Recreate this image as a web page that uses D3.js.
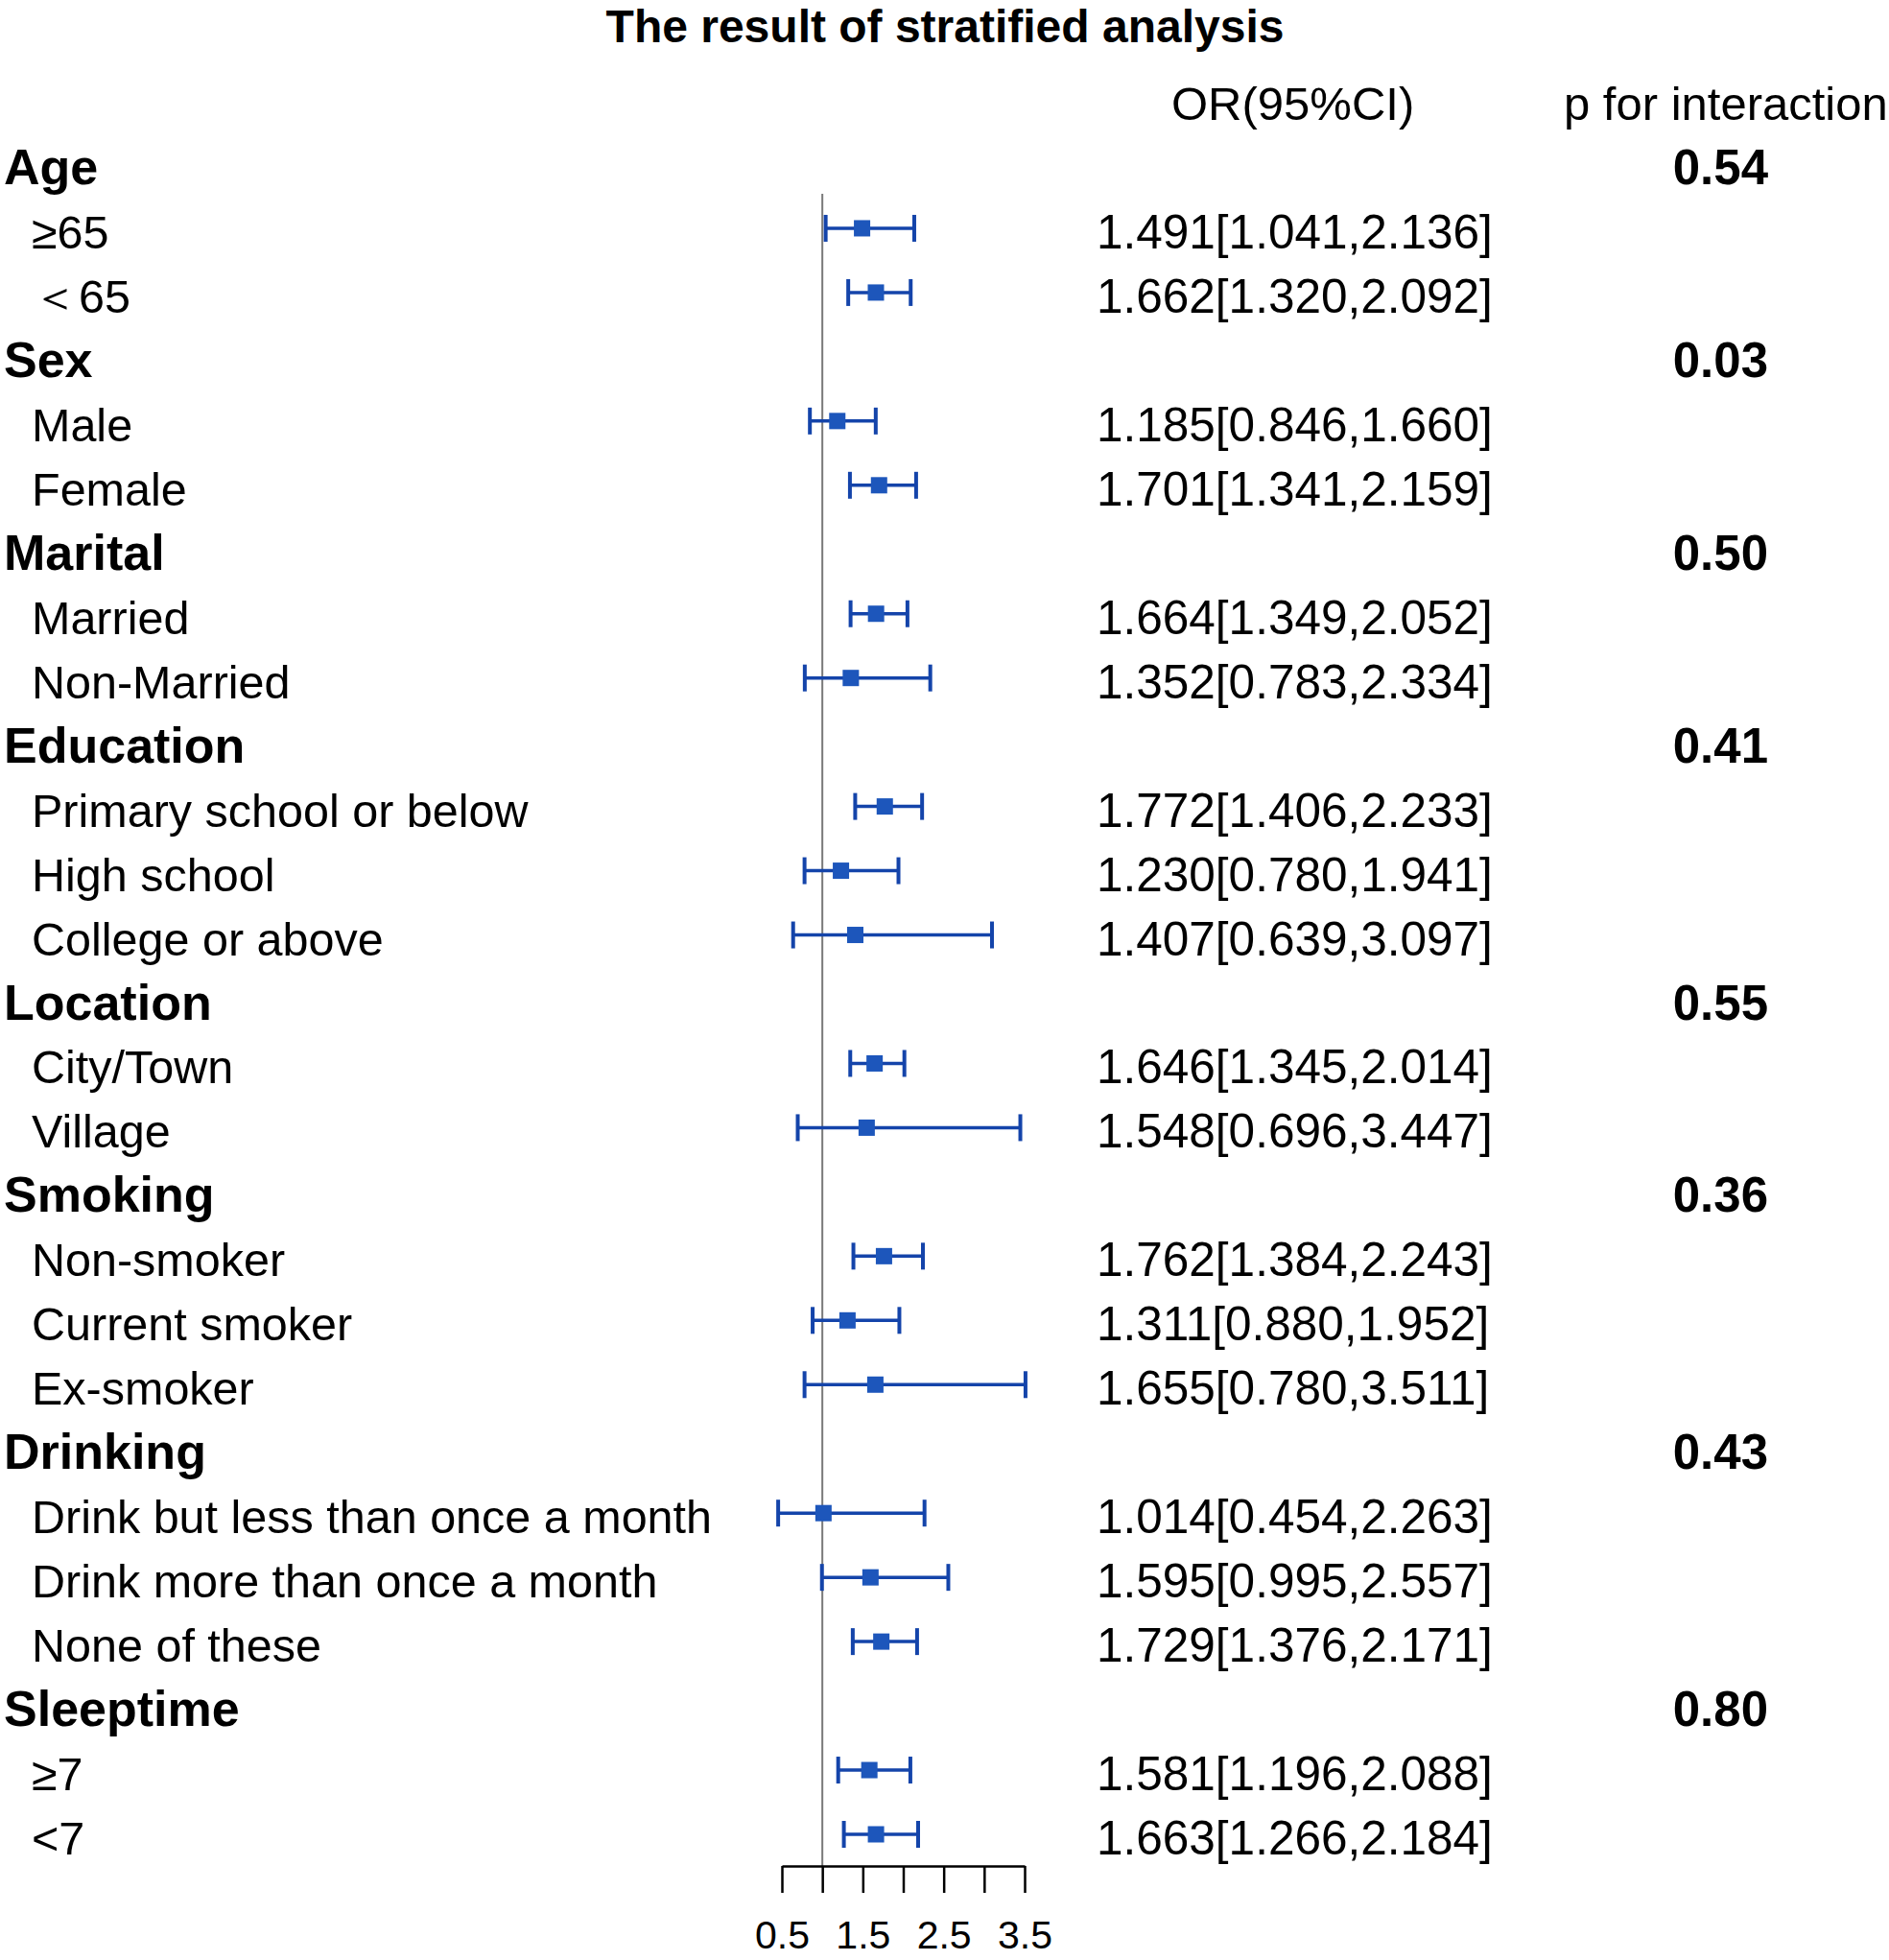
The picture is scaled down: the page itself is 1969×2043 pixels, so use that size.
<!DOCTYPE html>
<html>
<head>
<meta charset="utf-8">
<script src="https://cdn.jsdelivr.net/npm/d3@7"></script>
<style>
  body { margin: 0; background: #fff; }
  text { font-family: "Liberation Sans", Arial, sans-serif; fill: #000; }
</style>
</head>
<body>
<div id="forest"></div>
<script>
// Stratified analysis values
var groupNames = ["Age", "Sex", "Marital", "Education", "Location", "Smoking", "Drinking", "Sleeptime"];
var pInteraction = ["0.54", "0.03", "0.50", "0.41", "0.55", "0.36", "0.43", "0.80"];
var subgroupNames = [
    ["≥65", "＜65"],
    ["Male", "Female"],
    ["Married", "Non-Married"],
    ["Primary school or below", "High school", "College or above"],
    ["City/Town", "Village"],
    ["Non-smoker", "Current smoker", "Ex-smoker"],
    ["Drink but less than once a month", "Drink more than once a month", "None of these"],
    ["≥7", "<7"]
];
var orValues = [
    [1.491, 1.662], [1.185, 1.701], [1.664, 1.352], [1.772, 1.230, 1.407],
    [1.646, 1.548], [1.762, 1.311, 1.655], [1.014, 1.595, 1.729], [1.581, 1.663]
];
var ciLower = [
    [1.041, 1.320], [0.846, 1.341], [1.349, 0.783], [1.406, 0.780, 0.639],
    [1.345, 0.696], [1.384, 0.880, 0.780], [0.454, 0.995, 1.376], [1.196, 1.266]
];
var ciUpper = [
    [2.136, 2.092], [1.660, 2.159], [2.052, 2.334], [2.233, 1.941, 3.097],
    [2.014, 3.447], [2.243, 1.952, 3.511], [2.263, 2.557, 2.171], [2.088, 2.184]
];
var axisTicks = [0.5, 1, 1.5, 2, 2.5, 3, 3.5];
var axisLabels = ["0.5", "", "1.5", "", "2.5", "", "3.5"];

// Flatten into plot rows
var rows = [];
groupNames.forEach(function(g, gi) {
    rows.push({label: g, header: true, p: pInteraction[gi]});
    subgroupNames[gi].forEach(function(s, si) {
        rows.push({label: s, header: false, or: orValues[gi][si], lo: ciLower[gi][si], hi: ciUpper[gi][si]});
    });
});

createForest();

function createForest() {
    var width = 1969;
    var height = 2043;
    var lineColor = "#1444aa";
    var boxColor = "#1d56bb";

    var svg = d3.select("#forest").append("svg")
        .attr("width", width)
        .attr("height", height);

    var x = d3.scaleLinear().domain([0.5, 3.5]).range([815, 1068]);
    // text baseline of each row
    var y = d3.scaleLinear().domain([0, rows.length - 1]).range([192, 1933]);
    var markOffset = -21;
    var axisY = 1945;

    // title and column headers
    svg.append("text")
        .attr("x", 985).attr("y", 44)
        .attr("text-anchor", "middle")
        .style("font-size", "48px").style("font-weight", "bold")
        .text("The result of stratified analysis");
    svg.append("text")
        .attr("x", 1221).attr("y", 125)
        .style("font-size", "49px")
        .text("OR(95%CI)");
    svg.append("text")
        .attr("x", 1630).attr("y", 125)
        .style("font-size", "49px")
        .text("p for interaction");

    // row labels
    svg.selectAll("text.lab")
        .data(rows)
        .enter().append("text")
        .attr("class", "lab")
        .attr("x", d => d.header ? 4 : 33)
        .attr("y", (d, i) => y(i))
        .style("font-size", d => d.header ? "52px" : "48.5px")
        .style("font-weight", d => d.header ? "bold" : "normal")
        .text(d => d.label);

    // OR (95% CI) text
    svg.selectAll("text.ortxt")
        .data(rows)
        .enter().append("text")
        .attr("class", "ortxt")
        .attr("x", 1143)
        .attr("y", (d, i) => y(i))
        .style("font-size", "49.5px")
        .text(d => d.header ? "" : d.or.toFixed(3) + "[" + d.lo.toFixed(3) + "," + d.hi.toFixed(3) + "]");

    // p for interaction
    svg.selectAll("text.pval")
        .data(rows)
        .enter().append("text")
        .attr("class", "pval")
        .attr("x", 1843)
        .attr("y", (d, i) => y(i))
        .attr("text-anchor", "end")
        .style("font-size", "51px")
        .style("font-weight", "bold")
        .text(d => d.header ? d.p : "");

    // reference line at OR = 1
    svg.append("line")
        .attr("x1", x(1)).attr("x2", x(1))
        .attr("y1", 202).attr("y2", axisY)
        .attr("stroke", "#7a7a7a")
        .attr("stroke-width", 2);

    // CI marks
    var marks = svg.selectAll("g.mark")
        .data(rows.map((d, i) => Object.assign({idx: i}, d)).filter(d => !d.header))
        .enter().append("g")
        .attr("class", "mark")
        .attr("transform", d => "translate(0," + (y(d.idx) + markOffset) + ")");

    marks.append("line")
        .attr("x1", d => x(d.lo)).attr("x2", d => x(d.hi))
        .attr("y1", 0).attr("y2", 0)
        .attr("stroke", lineColor).attr("stroke-width", 3.5);
    marks.append("line")
        .attr("x1", d => x(d.lo)).attr("x2", d => x(d.lo))
        .attr("y1", -14).attr("y2", 14)
        .attr("stroke", lineColor).attr("stroke-width", 4);
    marks.append("line")
        .attr("x1", d => x(d.hi)).attr("x2", d => x(d.hi))
        .attr("y1", -14).attr("y2", 14)
        .attr("stroke", lineColor).attr("stroke-width", 4);
    marks.append("rect")
        .attr("x", d => x(d.or) - 8.5).attr("y", -8.5)
        .attr("width", 17).attr("height", 17)
        .attr("fill", boxColor);

    // x axis
    var axis = d3.axisBottom(x)
        .tickValues(axisTicks)
        .tickFormat((d, i) => axisLabels[i])
        .tickSize(28)
        .tickSizeOuter(0)
        .tickPadding(29);

    var gAxis = svg.append("g")
        .attr("transform", "translate(0," + axisY + ")")
        .call(axis);
    gAxis.select(".domain").attr("stroke", "#000").attr("stroke-width", 2.5);
    gAxis.selectAll(".tick line").attr("stroke", "#000").attr("stroke-width", 2.5);
    gAxis.selectAll(".tick text")
        .style("font-family", "'Liberation Sans', Arial, sans-serif")
        .style("font-size", "41px")
        .attr("fill", "#000");
}
</script>
</body>
</html>
